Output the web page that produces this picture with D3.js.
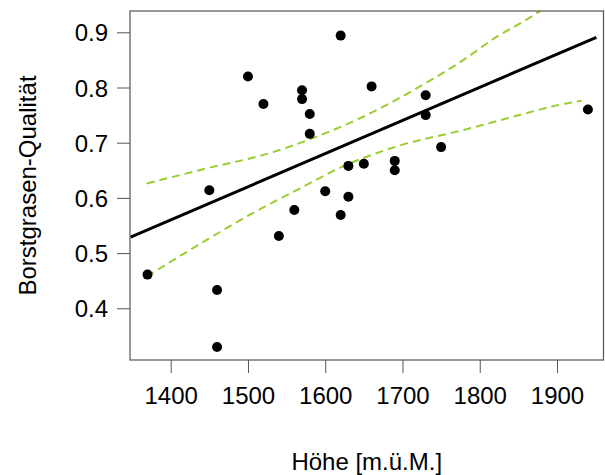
<!DOCTYPE html>
<html>
<head>
<meta charset="utf-8">
<script src="https://cdn.jsdelivr.net/npm/d3@7"></script>
<style>
  body { margin: 0; background: #fff; }
  svg text { font-family: "Liberation Sans", Arial, sans-serif; }
</style>
</head>
<body>
<div id="chart"></div>
<script>
// data
var hoehe = [1370, 1450, 1460, 1460, 1500, 1520, 1540, 1560, 1570, 1570, 1580, 1580, 1600,
             1620, 1620, 1630, 1630, 1650, 1660, 1690, 1690, 1730, 1730, 1750, 1940];
var qualitaet = [0.461, 0.614, 0.433, 0.330, 0.820, 0.770, 0.531, 0.578, 0.795, 0.779, 0.752, 0.716, 0.612,
                 0.894, 0.569, 0.658, 0.602, 0.662, 0.802, 0.667, 0.650, 0.786, 0.750, 0.692, 0.760];

// fitted line
var fitX = [1348, 1951];
var fitY = [0.529, 0.891];

// confidence band
var upperX = [1369, 1448, 1528, 1589, 1649, 1714, 1779, 1822, 1856, 1885];
var upperY = [0.626, 0.654, 0.681, 0.711, 0.747, 0.795, 0.850, 0.892, 0.919, 0.945];
var lowerX = [1369, 1429, 1498, 1563, 1623, 1692, 1779, 1843, 1908, 1932];
var lowerY = [0.458, 0.509, 0.566, 0.614, 0.657, 0.693, 0.723, 0.747, 0.770, 0.776];

var xTicks = [1400, 1500, 1600, 1700, 1800, 1900];
var yTicks = [0.4, 0.5, 0.6, 0.7, 0.8, 0.9];

var W = 605, H = 475;
var pLeft = 130, pRight = 603.5, pTop = 11, pBottom = 360;

var svg = d3.select("#chart").append("svg")
    .attr("width", W)
    .attr("height", H);

var x = d3.scaleLinear().domain([1347.3, 1960.2]).range([pLeft, pRight]);
var y = d3.scaleLinear().domain([0.3063, 0.9386]).range([pBottom, pTop]);

svg.append("clipPath").attr("id", "plotclip")
  .append("rect")
    .attr("x", pLeft).attr("y", pTop)
    .attr("width", pRight - pLeft).attr("height", pBottom - pTop);

// axes
var xAxis = svg.append("g")
    .attr("transform", "translate(0," + pBottom + ")")
    .call(d3.axisBottom(x).tickValues(xTicks).tickSize(13).tickPadding(14).tickFormat(d3.format("d")));
var yAxis = svg.append("g")
    .attr("transform", "translate(" + pLeft + ",0)")
    .call(d3.axisLeft(y).tickValues(yTicks).tickSize(13).tickPadding(9).tickFormat(d3.format(".1f")));

[xAxis, yAxis].forEach(function(a) {
  a.select(".domain").remove();
  a.selectAll("line").attr("stroke", "#555");
  a.selectAll("text").attr("fill", "#000").style("font-size", "24px");
});
yAxis.selectAll("text").attr("dy", "0.36em");
xAxis.selectAll("text").attr("dy", "0.71em");

var plot = svg.append("g").attr("clip-path", "url(#plotclip)");

var line = d3.line()
    .x(function(d) { return x(d[0]); })
    .y(function(d) { return y(d[1]); })
    .curve(d3.curveMonotoneX);

plot.append("path")
    .datum(d3.zip(upperX, upperY))
    .attr("d", line)
    .attr("fill", "none")
    .attr("stroke", "#9ACD32")
    .attr("stroke-width", 2)
    .attr("stroke-dasharray", "8,5");

plot.append("path")
    .datum(d3.zip(lowerX, lowerY))
    .attr("d", line)
    .attr("fill", "none")
    .attr("stroke", "#9ACD32")
    .attr("stroke-width", 2)
    .attr("stroke-dasharray", "8,5");

plot.append("path")
    .datum(d3.zip(fitX, fitY))
    .attr("d", line)
    .attr("fill", "none")
    .attr("stroke", "#000")
    .attr("stroke-width", 3);

plot.selectAll("circle")
    .data(d3.zip(hoehe, qualitaet))
    .enter().append("circle")
    .attr("cx", function(d) { return x(d[0]); })
    .attr("cy", function(d) { return y(d[1]); })
    .attr("r", 5)
    .attr("fill", "#000");

// box
svg.append("rect")
    .attr("x", pLeft).attr("y", pTop)
    .attr("width", pRight - pLeft).attr("height", pBottom - pTop)
    .attr("fill", "none")
    .attr("stroke", "#555")
    .attr("stroke-width", 1.2);

// axis titles
svg.append("text")
    .attr("x", (pLeft + pRight) / 2)
    .attr("y", 470)
    .attr("text-anchor", "middle")
    .style("font-size", "24px")
    .text("Höhe [m.ü.M.]");

svg.append("text")
    .attr("transform", "translate(36," + ((pTop + pBottom) / 2) + ") rotate(-90)")
    .attr("text-anchor", "middle")
    .style("font-size", "24px")
    .text("Borstgrasen-Qualität");
</script>
</body>
</html>
